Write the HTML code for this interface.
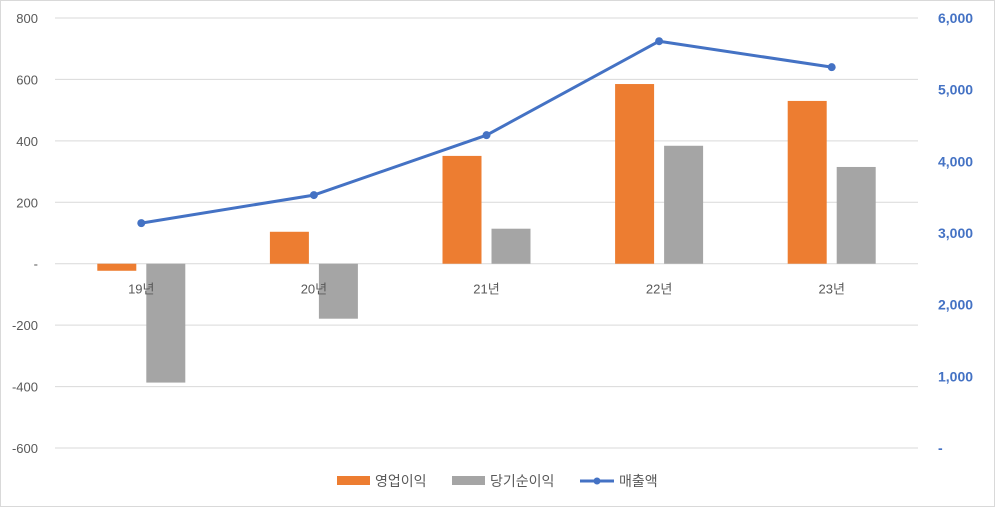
<!DOCTYPE html>
<html><head><meta charset="utf-8"><style>
body{margin:0;background:#fff;}
svg{display:block;font-family:"Liberation Sans","Noto Sans CJK KR",sans-serif;}
</style></head><body>
<svg id="chart" width="995" height="507">
<rect x="0.5" y="0.5" width="994" height="506" fill="#fff" stroke="#d9d9d9"/>
<g id="grid"></g><g id="bars"></g><g id="line"></g><g id="axes"></g>
<g font-size="14" fill="#595959">
<rect x="337" y="476" width="33" height="9" fill="#ed7d31"/>
<text x="375" y="486">영업이익</text>
<rect x="452" y="476" width="33" height="9" fill="#a5a5a5"/>
<text x="490" y="486">당기순이익</text>
<line x1="580" y1="481" x2="614" y2="481" stroke="#4472c4" stroke-width="3"/>
<circle cx="597" cy="481" r="3.5" fill="#4472c4"/>
<text x="619" y="486">매출액</text>
</g>
</svg>
<script>
const categories=["19년","20년","21년","22년","23년"];
const operatingProfit=[-23,104,351,585,530];
const netProfit=[-387,-179,114,384,315];
const sales=[3138,3529,4365,5676,5314];
const leftTicks=[800,600,400,200,0,-200,-400,-600];
const rightTicks=[6000,5000,4000,3000,2000,1000,0];
const NS="http://www.w3.org/2000/svg";
const plotL=55,plotR=918,plotT=18,plotB=448;
const yL=v=>plotT+(800-v)/1400*(plotB-plotT);
const yR=v=>plotB-v/6000*(plotB-plotT);
const band=(plotR-plotL)/categories.length;
const xC=i=>plotL+band*(i+0.5);
function mk(tag,attrs,parent,txt){const e=document.createElementNS(NS,tag);for(const k in attrs)e.setAttribute(k,attrs[k]);if(txt!==undefined)e.textContent=txt;document.getElementById(parent).appendChild(e);return e;}
const fmt=v=>v===0?"-":v.toLocaleString("en-US");
leftTicks.forEach(t=>{
 const g=mk("line",{x1:plotL,x2:plotR,y1:yL(t),y2:yL(t),stroke:"#d9d9d9","stroke-width":1},"grid");
 
 
 const l=mk("text",{x:38,y:yL(t)+5,"text-anchor":"end","font-size":13,fill:"#595959"},"axes",fmt(t));
 
 
});
rightTicks.forEach(t=>{
 const l=mk("text",{x:938,y:yR(t)+5,"text-anchor":"start","font-size":14,"font-weight":"bold",fill:"#4472c4"},"axes",fmt(t));
 
 
});
const bw=39,gap=10;
categories.forEach((c,i)=>{
 const x=xC(i);
 const o=operatingProfit[i],n=netProfit[i];
 const b1=mk("rect",{x:x-gap/2-bw,y:Math.min(yL(o),yL(0)),width:bw,height:Math.abs(yL(o)-yL(0)),fill:"#ed7d31"},"bars");
 
 
 const b2=mk("rect",{x:x+gap/2,y:Math.min(yL(n),yL(0)),width:bw,height:Math.abs(yL(n)-yL(0)),fill:"#a5a5a5"},"bars");
 
 
 const l=mk("text",{x:x,y:yL(0)+30,"text-anchor":"middle","font-size":13,fill:"#595959"},"axes",c);
 
 
});
const pts=sales.map((v,i)=>xC(i)+","+yR(v)).join(" ");
const pl=mk("polyline",{points:pts,fill:"none",stroke:"#4472c4","stroke-width":3,"stroke-linejoin":"round"},"line");


sales.forEach((v,i)=>{
 const c=mk("circle",{cx:xC(i),cy:yR(v),r:4,fill:"#4472c4"},"line");
 
 
});
</script>
</body></html>
